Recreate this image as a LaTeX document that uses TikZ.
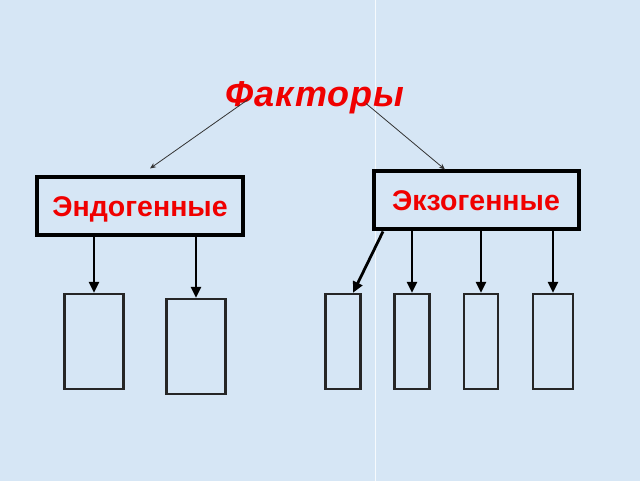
\documentclass[tikz,border=0pt]{standalone}
\usepackage{fontspec}
\setmainfont{Liberation Sans}
\newfontfamily\titlefont[LetterSpace=3]{Liberation Sans}
\usetikzlibrary{arrows.meta}
\definecolor{bgblue}{RGB}{214,230,245}
\definecolor{txtred}{RGB}{240,0,0}
\begin{document}
\begin{tikzpicture}[x=1pt,y=-1pt,
  mainbox/.style={draw=black,line width=4pt,fill=none,inner sep=0pt,text depth=0pt,text=txtred,font=\fontsize{28.5}{30}\selectfont\bfseries},
  leaf/.style={draw=black!85,line width=2.3pt,inner sep=0pt},
  thin/.style={draw=black!80,line width=0.8pt,-{Stealth[length=6pt,width=5pt]}},
  thick/.style={draw=black,line width=2.8pt,-{Triangle[length=11pt,width=10pt]}}]
\fill[bgblue] (0,0) rectangle (640,480);
\draw[white,line width=1pt,opacity=0.8] (375,0) -- (375,480);
\useasboundingbox (0,0) rectangle (640,480);
\node[text=txtred,font=\titlefont\fontsize{36}{40}\selectfont\bfseries\itshape] (title) at (315,97) {Факторы};
\node[mainbox,minimum width=206pt,minimum height=58pt] (endo) at (140,206) {Эндогенные};
\node[mainbox,minimum width=205pt,minimum height=58pt] (exo) at (476,200) {Экзогенные};
\node[leaf,minimum width=59pt,minimum height=95pt] (e1) at (94,341) {};
\node[leaf,minimum width=59pt,minimum height=95pt] (e2) at (196,346) {};
\node[leaf,minimum width=35pt,minimum height=95pt] (x1) at (343,341) {};
\node[leaf,minimum width=35pt,minimum height=95pt] (x2) at (412,341) {};
\node[leaf,minimum width=34pt,minimum height=95pt] (x3) at (481,341) {};
\node[leaf,minimum width=40pt,minimum height=95pt] (x4) at (553,341) {};
\coordinate (tl) at (248,99);
\coordinate (tr) at (366,103);
\draw[thin] (tl) -- (150,168);
\draw[thin] (tr) -- (445,169);
\draw[thick] (endo.south -| e1.north) -- (e1.north);
\draw[thick] (endo.south -| e2.north) -- (e2.north);
\draw[thick] (383,231) -- ([xshift=10pt]x1.north);
\draw[thick] (exo.south -| x2.north) -- (x2.north);
\draw[thick] (exo.south -| x3.north) -- (x3.north);
\draw[thick] (exo.south -| x4.north) -- (x4.north);
\end{tikzpicture}
\end{document}
